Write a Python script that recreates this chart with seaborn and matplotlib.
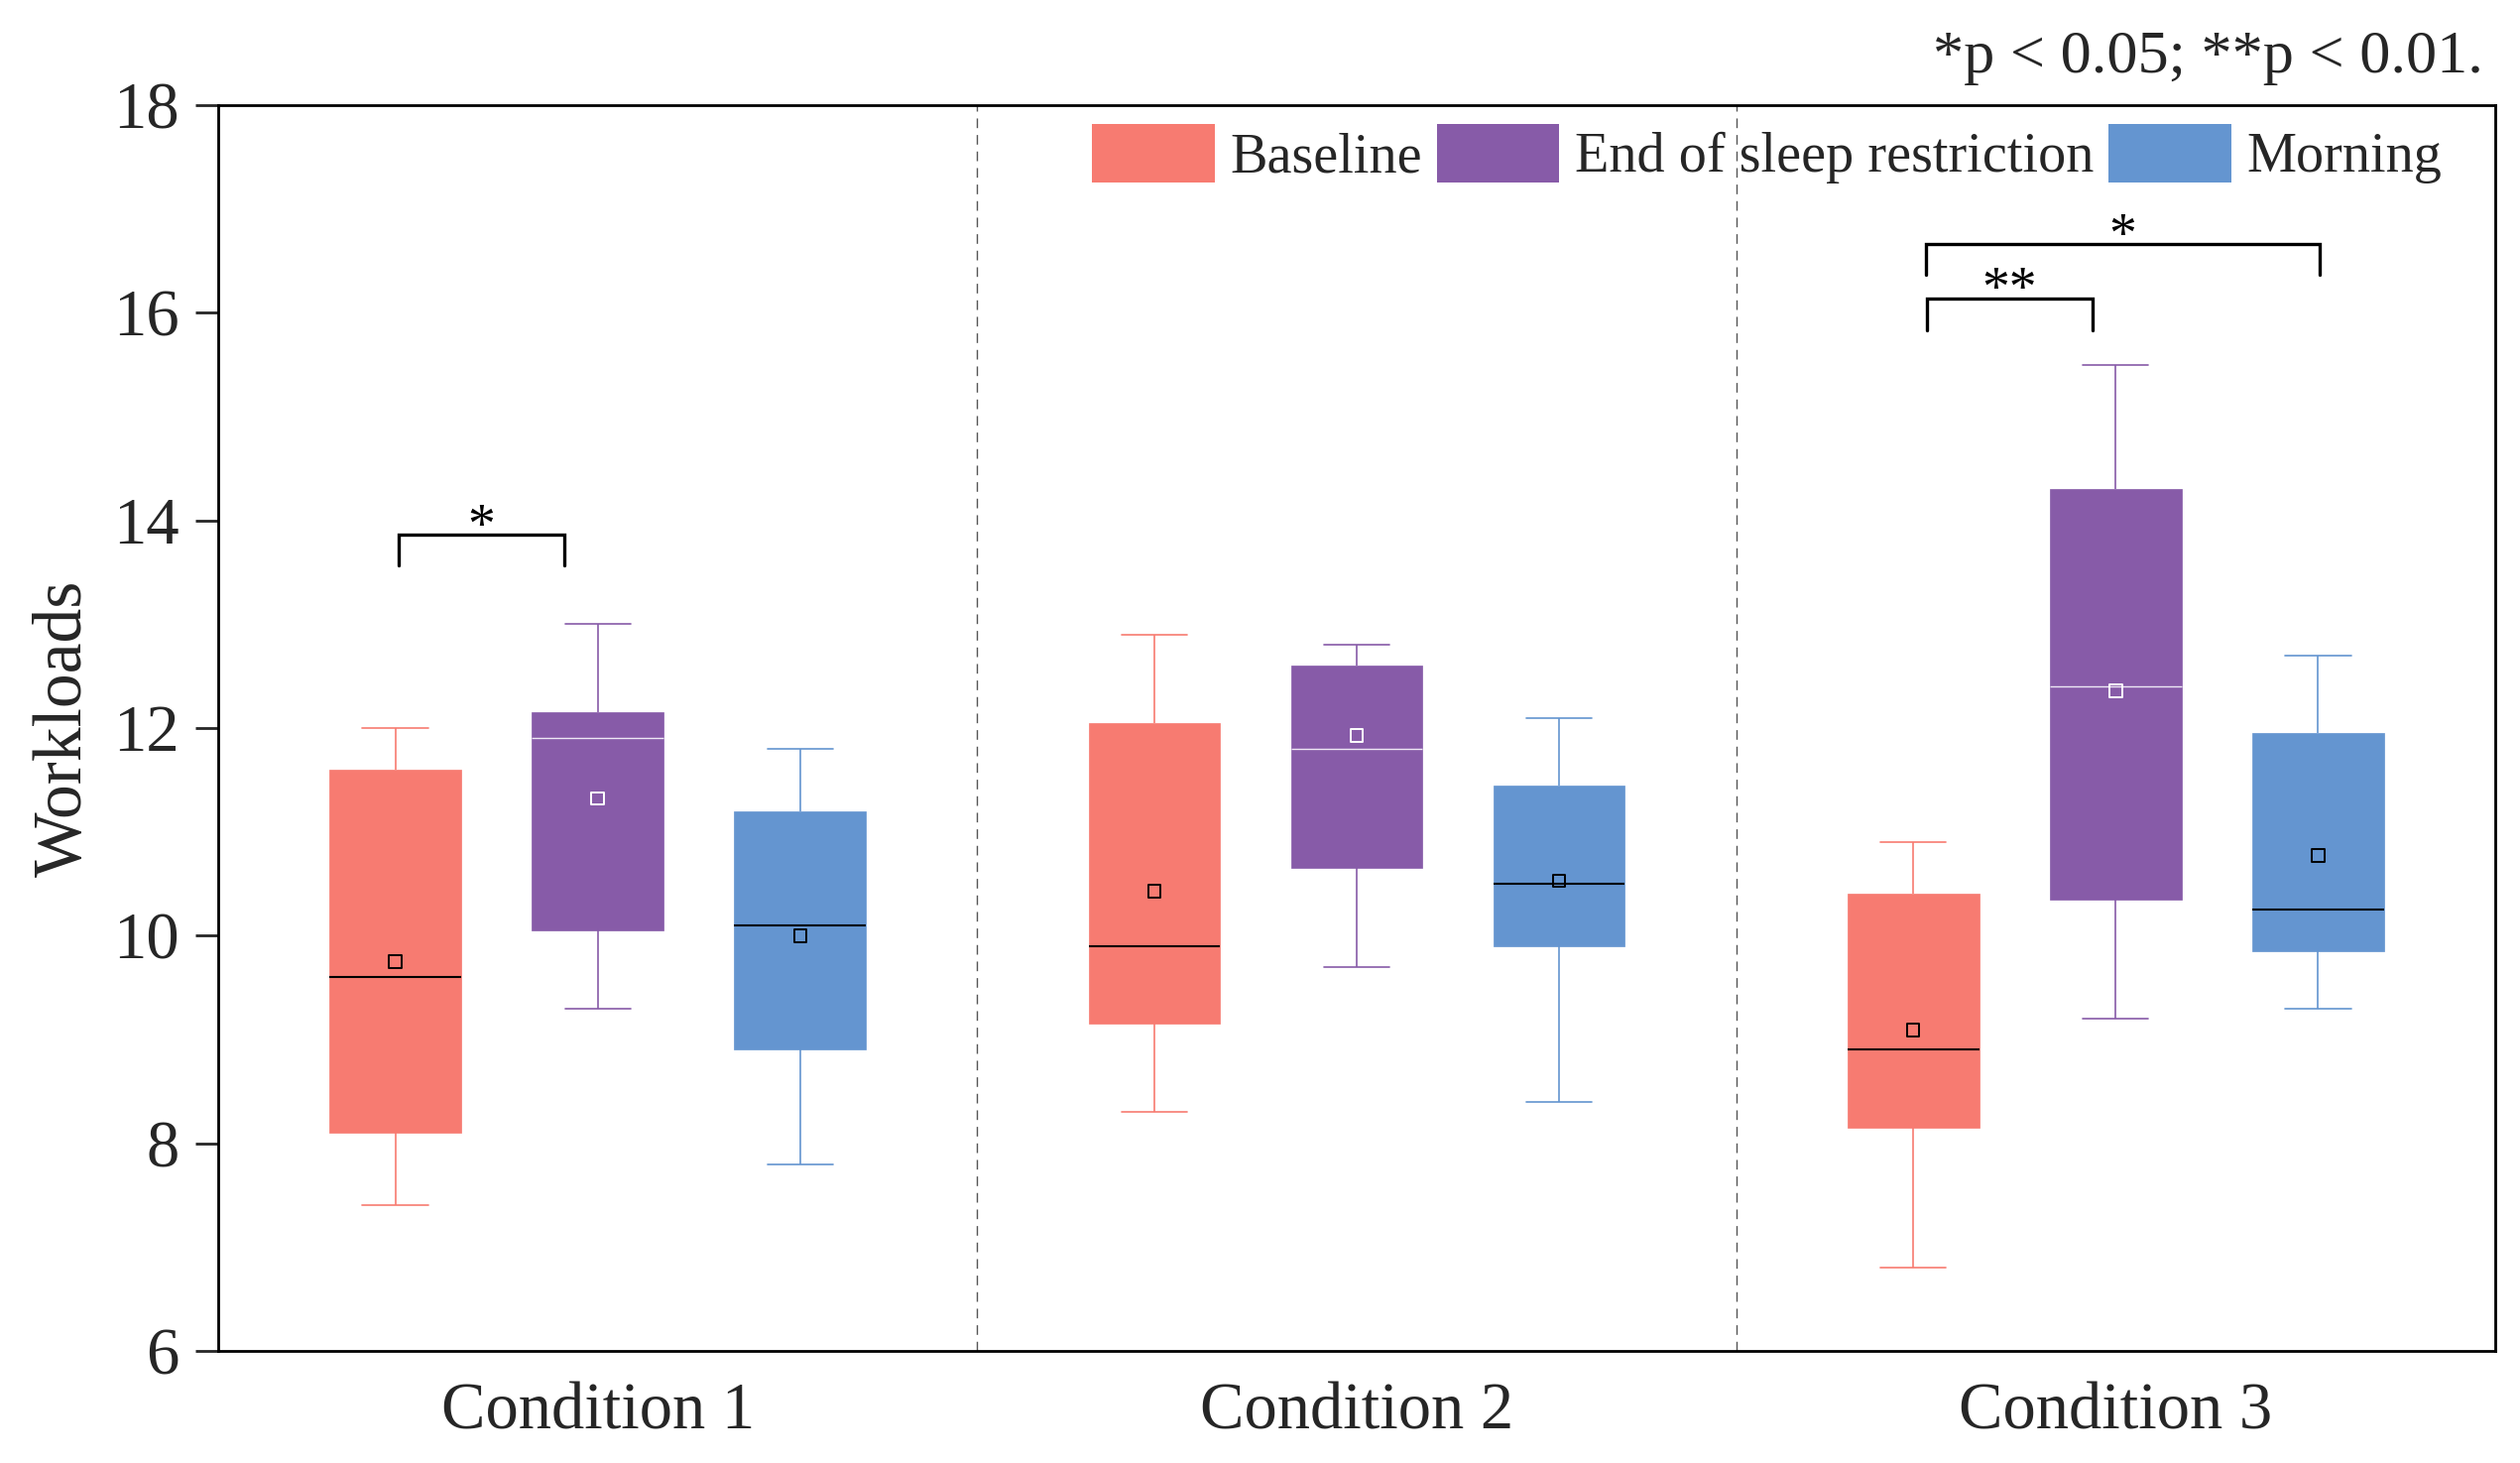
import numpy as np
import pandas as pd
import matplotlib
matplotlib.use("Agg")
import matplotlib.pyplot as plt
from matplotlib.patches import Patch
import seaborn as sns

# ---------------- data ----------------
conditions = ["Condition 1", "Condition 2", "Condition 3"]
groups = ["Baseline", "End of sleep restriction", "Morning"]
colors = ["#F77B71", "#875BA8", "#6495D0"]

baseline_min = [7.4, 8.3, 6.8]
baseline_q1 = [8.1, 9.15, 8.15]
baseline_med = [9.6, 9.9, 8.9]
baseline_q3 = [11.6, 12.05, 10.4]
baseline_max = [12.0, 12.9, 10.9]
baseline_mean = [9.75, 10.43, 9.09]

end_min = [9.3, 9.7, 9.2]
end_q1 = [10.05, 10.65, 10.35]
end_med = [11.9, 11.8, 12.4]
end_q3 = [12.15, 12.6, 14.3]
end_max = [13.0, 12.8, 15.5]
end_mean = [11.32, 11.93, 12.36]

morning_min = [7.8, 8.4, 9.3]
morning_q1 = [8.9, 9.9, 9.85]
morning_med = [10.1, 10.5, 10.25]
morning_q3 = [11.2, 11.45, 11.95]
morning_max = [11.8, 12.1, 12.7]
morning_mean = [10.0, 10.53, 10.77]

yticks = [6, 8, 10, 12, 14, 16, 18]

# significance annotations: (x_left, x_right, y_top, y_leg_bottom, label)
sig_brackets = [
    (-0.262, -0.044, 13.86, 13.57, "*"),
    (1.751, 1.969, 16.14, 15.83, "**"),
    (1.750, 2.269, 16.66, 16.37, "*"),
]

# ---------------- build tables ----------------
stats = {
    "Baseline": (baseline_min, baseline_q1, baseline_med, baseline_q3, baseline_max, baseline_mean),
    "End of sleep restriction": (end_min, end_q1, end_med, end_q3, end_max, end_mean),
    "Morning": (morning_min, morning_q1, morning_med, morning_q3, morning_max, morning_mean),
}
rows, mean_rows = [], []
for g in groups:
    mn, q1, md, q3, mx, me = stats[g]
    for i, c in enumerate(conditions):
        for v in (mn[i], q1[i], md[i], q3[i], mx[i]):
            rows.append({"Condition": c, "Group": g, "Workloads": v})
        mean_rows.append({"Condition": c, "Group": g, "Workloads": me[i]})
df = pd.DataFrame(rows)
df_mean = pd.DataFrame(mean_rows)

# ---------------- style ----------------
sns.set_style("ticks")
plt.rcParams["font.family"] = ["Liberation Serif", "DejaVu Serif"]

fig = plt.figure(figsize=(25.41, 14.75), dpi=100)
ax = fig.add_axes([0.08658, 0.07661, 0.90358, 0.85153])

palette = dict(zip(groups, colors))
sns.boxplot(data=df, x="Condition", y="Workloads", hue="Group",
            order=conditions, hue_order=groups, palette=palette,
            whis=(0, 100), width=0.8, gap=0.35, saturation=1,
            linewidth=1.2, showfliers=False, ax=ax, legend=False)

median_cols = ["black", "#EEE8F5", "black"]
median_lw = [1.5, 1.0, 1.5]
for k, cont in enumerate(ax.containers[:3]):
    col = colors[k]
    for b in cont.boxes:
        b.set_edgecolor(col)
        b.set_facecolor(col)
        b.set_linewidth(0.5)
    for w in cont.whiskers:
        w.set_color(col)
        w.set_linewidth(1.2)
    for cp in cont.caps:
        cp.set_color(col)
        cp.set_linewidth(1.2)
    for m in cont.medians:
        m.set_color(median_cols[k])
        m.set_linewidth(median_lw[k])

# mean markers
n_before = len(ax.collections)
mean_pal = {"Baseline": "black", "End of sleep restriction": "white", "Morning": "black"}
sns.stripplot(data=df_mean, x="Condition", y="Workloads", hue="Group",
              order=conditions, hue_order=groups, palette=mean_pal,
              dodge=True, jitter=False, marker="s", size=9, linewidth=1.4,
              ax=ax, legend=False, zorder=5)
for coll in ax.collections[n_before:]:
    fc = coll.get_facecolor()
    coll.set_edgecolor(fc)
    coll.set_facecolor("none")

# separators
for xs in (0.5, 1.5):
    ax.axvline(xs, color="#555555", lw=1.0, ls=(0, (7, 5)), zorder=0)

# significance brackets
for x0, x1, yt, yb, lab in sig_brackets:
    ax.plot([x0, x0, x1, x1], [yb, yt, yt, yb], color="black", lw=2.4,
            solid_joinstyle="miter", zorder=6)
    ax.text((x0 + x1) / 2, yt - 0.07, lab, ha="center", va="baseline",
            fontsize=40, color="black")

ax.set_xlim(-0.5, 2.5)
ax.set_ylim(6, 18)
ax.set_yticks(yticks)
ax.set_xlabel("")
ax.set_ylabel("Workloads", fontsize=50, labelpad=12)
ax.tick_params(axis="y", labelsize=48, length=16.5, width=2.0, direction="out", pad=12)
ax.tick_params(axis="x", labelsize=48, length=0, pad=23)
for s in ax.spines.values():
    s.set_visible(True)
    s.set_linewidth(2.0)
    s.set_color("black")

handles = [Patch(facecolor=c, edgecolor="none") for c in colors]
ax.legend(handles, groups, ncol=3, frameon=False, loc="upper right",
          bbox_to_anchor=(0.9765, 0.985), fontsize=40.5, handlelength=2.2,
          handleheight=1.24, handletextpad=0.27, columnspacing=0.27,
          borderaxespad=0.0, borderpad=0.0)

fig.text(0.9854, 0.9505, "*p < 0.05; **p < 0.01.", ha="right", va="baseline", fontsize=44.8)

fig.savefig("out.png", dpi=100)
